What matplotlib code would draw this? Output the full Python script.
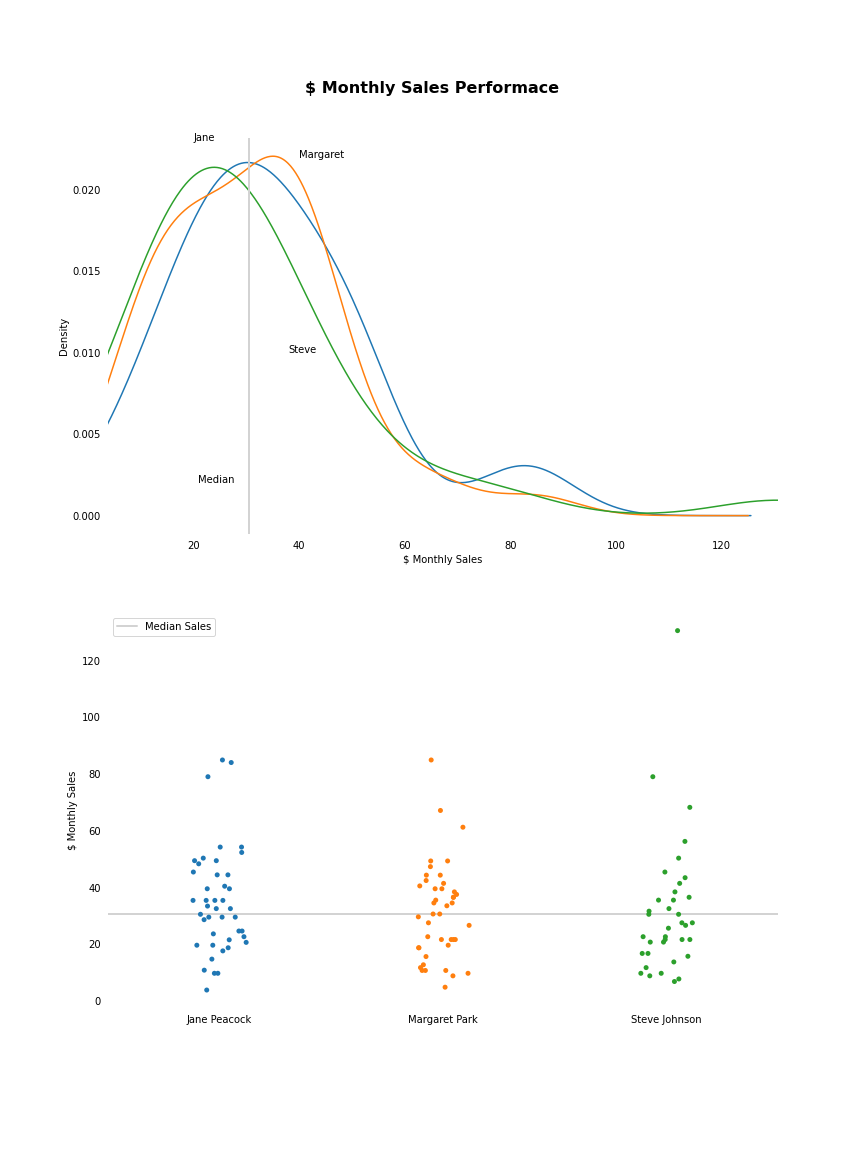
import matplotlib
matplotlib.use("Agg")
import matplotlib.pyplot as plt
import numpy as np
import pandas as pd
import seaborn as sns

# monthly sales
jane = [85.0, 84.1, 79.1, 54.3, 54.3, 52.4, 48.4, 50.4, 49.5, 49.5, 45.5, 44.5,
        44.5, 39.6, 39.6, 40.5, 35.5, 35.5, 35.5, 35.5, 33.5, 32.6, 32.6, 30.6,
        29.6, 29.6, 29.6, 28.7, 23.7, 22.7, 20.7, 21.6, 24.7, 24.7, 19.7, 19.7,
        18.8, 17.7, 14.8, 10.9, 9.8, 9.8, 3.9]
margaret = [85.0, 67.2, 61.3, 49.4, 49.4, 47.4, 44.4, 44.4, 42.5, 41.5, 40.6,
            39.6, 39.6, 38.5, 37.6, 36.6, 36.6, 35.6, 34.6, 34.6, 33.6, 30.7,
            30.7, 29.7, 27.6, 26.7, 22.7, 21.7, 21.7, 21.7, 21.7, 19.7, 18.8,
            18.8, 15.7, 12.8, 11.8, 10.8, 10.8, 10.8, 9.8, 8.9, 4.9]
steve = [130.6, 79.1, 68.3, 56.3, 50.4, 45.5, 43.5, 41.5, 38.5, 36.6, 35.6, 35.6,
         32.6, 31.7, 30.6, 30.6, 27.6, 27.6, 26.7, 25.7, 22.7, 22.7, 21.7, 21.7,
         21.7, 20.8, 20.8, 16.8, 16.8, 15.8, 13.8, 11.8, 9.8, 9.8, 8.9, 7.8, 6.9]

names = ["Jane Peacock", "Margaret Park", "Steve Johnson"]
short_names = ["Jane", "Margaret", "Steve"]
series = [jane, margaret, steve]
label_pos = [(20, 0.023), (40, 0.022), (38, 0.010)]


def kde_curve(values, n=1000):
    # gaussian kde with scott's rule, grid like pandas plot.kde
    x = np.asarray(values, dtype=float)
    rng = x.max() - x.min()
    grid = np.linspace(x.min() - 0.5 * rng, x.max() + 0.5 * rng, n)
    bw = x.std(ddof=1) * len(x) ** (-1 / 5)
    z = (grid[:, None] - x[None, :]) / bw
    dens = np.exp(-0.5 * z ** 2).sum(axis=1) / (len(x) * bw * np.sqrt(2 * np.pi))
    return grid, dens


df = pd.DataFrame({
    "name": np.repeat(names, [len(s) for s in series]),
    "sales": np.concatenate(series),
})
median = df["sales"].median()

sns.set_style("white")
plt.rcParams["font.family"] = ["DejaVu Sans"]
for key in ("text.color", "axes.labelcolor", "xtick.color", "ytick.color"):
    plt.rcParams[key] = "black"

fig, (ax1, ax2) = plt.subplots(2, 1, figsize=(12, 16), dpi=72)
fig.subplots_adjust(bottom=0.125, top=0.88, hspace=0.2)
colors = sns.color_palette("tab10")

for vals, c in zip(series, colors):
    gx, gy = kde_curve(vals)
    ax1.plot(gx, gy, color=c, lw=1.5)
ax1.axvline(median, color="lightgray", lw=2)
for name, (tx, ty) in zip(short_names, label_pos):
    ax1.text(tx, ty, name, fontsize=10)
ax1.text(21, 0.002, "Median", fontsize=10)
ax1.set_xlim(df["sales"].min(), df["sales"].max())
ax1.set_xlabel("$ Monthly Sales")
ax1.set_ylabel("Density")

np.random.seed(3)
sns.stripplot(data=df, x="name", y="sales", hue="name", palette=colors[:3],
              jitter=0.125, size=5, ax=ax2, legend=False)
ax2.axhline(median, color="lightgray", lw=2, label="Median Sales")
ax2.legend(loc="upper left")
ax2.set_xlabel("")
ax2.set_ylabel("$ Monthly Sales")

sns.despine(fig=fig, left=True, bottom=True)
fig.suptitle("$ Monthly Sales Performace", fontsize=16, fontweight="bold",
             y=0.9236, va="center", color="black")
fig.savefig("out.png", dpi=72)
